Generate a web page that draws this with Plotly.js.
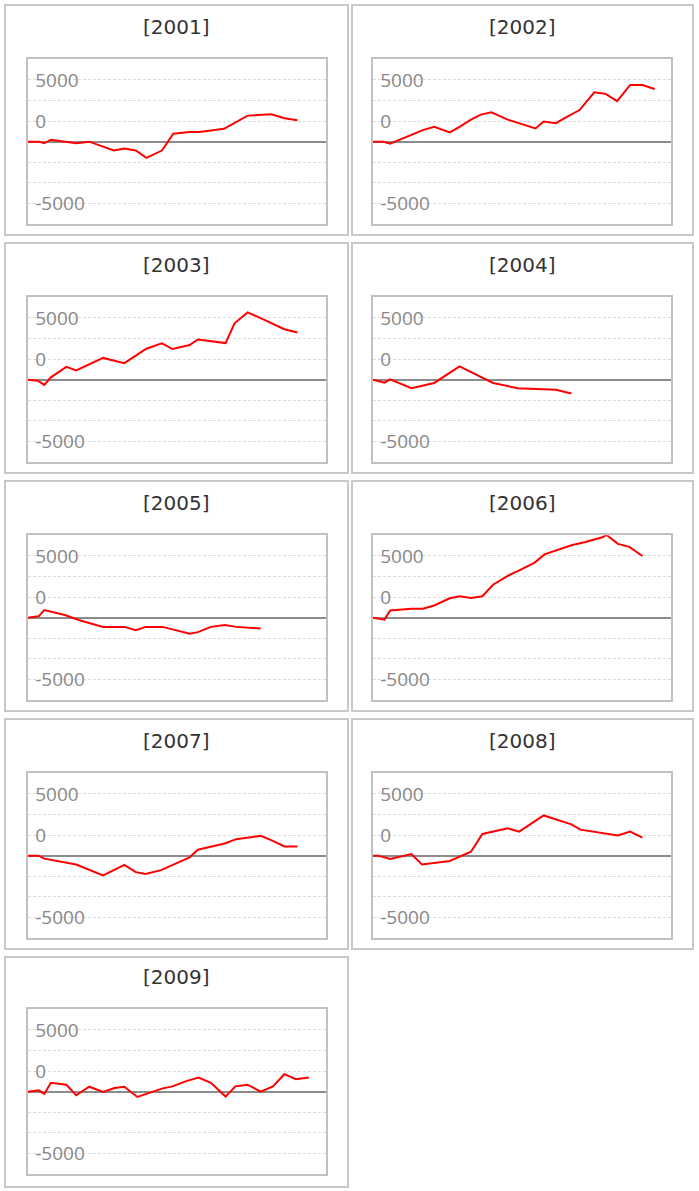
<!DOCTYPE html>
<html>
<head>
<meta charset="utf-8">
<script src="https://cdn.plot.ly/plotly-3.0.1.min.js"></script>
<style>
  html, body { margin: 0; padding: 0; background: #fff; }
  #chart { width: 699px; height: 1191px; }
</style>
</head>
<body>
<div id="chart"></div>
<script>
/* data (x = day of year) */

var years = ['2001', '2002', '2003', '2004', '2005', '2006', '2007', '2008', '2009']

var days_2001 = [0, 13, 20, 28, 59, 75, 105, 118, 132, 145, 164, 178, 198, 210, 240, 255, 269, 298, 314, 330]
var vals_2001 = [0, 0, -133, 160, -133, 0, -720, -560, -720, -1307, -720, 640, 773, 773, 1040, 1573, 2107, 2213, 1893, 1733]

var days_2002 = [0, 12, 21, 61, 75, 94, 106, 120, 132, 145, 165, 183, 199, 209, 224, 238, 253, 271, 285, 299, 315, 330, 345]
var vals_2002 = [0, 0, -160, 933, 1200, 747, 1200, 1787, 2187, 2373, 1787, 1387, 1067, 1627, 1493, 2027, 2560, 4000, 3867, 3280, 4587, 4587, 4267]

var days_2003 = [0, 12, 20, 28, 47, 59, 92, 118, 145, 164, 177, 198, 208, 242, 253, 269, 283, 300, 314, 330]
var vals_2003 = [0, -80, -427, 187, 1040, 747, 1760, 1333, 2507, 2933, 2480, 2800, 3253, 2960, 4560, 5440, 5040, 4507, 4080, 3813]

var days_2004 = [0, 14, 21, 47, 75, 106, 147, 177, 224, 243]
var vals_2004 = [0, -240, 30, -693, -267, 1067, -267, -693, -827, -1120]

var days_2005 = [0, 13, 20, 45, 63, 92, 118, 132, 144, 165, 198, 208, 224, 241, 255, 285]
var vals_2005 = [0, 107, 613, 213, -213, -747, -747, -1013, -747, -747, -1307, -1173, -747, -587, -747, -880]

var days_2006 = [0, 14, 21, 47, 61, 75, 94, 106, 120, 134, 147, 165, 181, 198, 210, 243, 259, 281, 286, 300, 314, 330]
var vals_2006 = [0, -160, 587, 720, 720, 987, 1573, 1733, 1600, 1733, 2667, 3387, 3893, 4453, 5120, 5867, 6107, 6507, 6700, 5973, 5733, 4987]

var days_2007 = [0, 13, 20, 38, 59, 92, 118, 132, 144, 163, 181, 198, 208, 224, 241, 255, 285, 300, 314, 330]
var vals_2007 = [0, 0, -240, -480, -720, -1600, -747, -1333, -1493, -1173, -613, -133, 480, 747, 987, 1333, 1600, 1200, 747, 747]

var days_2008 = [0, 6, 21, 47, 60, 94, 120, 134, 165, 179, 209, 226, 243, 254, 283, 300, 315, 330]
var vals_2008 = [0, 0, -267, 133, -720, -427, 320, 1760, 2213, 1947, 3253, 2907, 2533, 2107, 1840, 1627, 1947, 1467]

var days_2009 = [0, 13, 20, 28, 47, 59, 75, 92, 106, 118, 134, 149, 165, 177, 194, 209, 224, 242, 254, 269, 285, 300, 314, 328, 344]
var vals_2009 = [0, 107, -187, 720, 560, -293, 400, -27, 293, 400, -427, -80, 267, 427, 853, 1147, 720, -400, 427, 560, 0, 427, 1413, 1013, 1147]

var series_days = [days_2001, days_2002, days_2003, days_2004, days_2005, days_2006, days_2007, days_2008, days_2009]
var series_vals = [vals_2001, vals_2002, vals_2003, vals_2004, vals_2005, vals_2006, vals_2007, vals_2008, vals_2009]

// in the original the "0" label sits one grid step above the zero line
var grid_step = 5000 / 3
var y_tick_vals = [5000, grid_step, -5000]
var y_tick_text = ['5000', '0', '-5000']

/* page geometry, in pixels */

var W = 699, H = 1191
var col_plot = [[28, 326], [373, 671]]
var col_box = [[5, 348], [352, 693]]
var row_off = [0, 238, 476, 714, 950]
var box_top = [5, 243, 481, 719, 957]

function px_x(p) { return p / W }
function px_y(p) { return 1 - p / H }

var traces = []
var layout = {
    width: W, height: H, autosize: false,
    margin: {l: 0, r: 0, t: 0, b: 0},
    paper_bgcolor: '#fff', plot_bgcolor: '#fff',
    showlegend: false,
    shapes: [], annotations: []
}

years.forEach(function (yr, i) {
    var col = i % 2, row = Math.floor(i / 2)
    var sfx = i === 0 ? '' : String(i + 1)

    traces.push({
        x: series_days[i], y: series_vals[i],
        xaxis: 'x' + sfx, yaxis: 'y' + sfx,
        type: 'scatter', mode: 'lines',
        line: {color: '#ff0000', width: 2},
        hoverinfo: 'skip'
    })

    layout['xaxis' + sfx] = {
        domain: [px_x(col_plot[col][0]), px_x(col_plot[col][1])],
        range: [0, 365], anchor: 'y' + sfx,
        showgrid: false, zeroline: false, showticklabels: false, ticks: '',
        showline: true, mirror: true, linecolor: '#c0c0c0', linewidth: 2,
        fixedrange: true
    }

    layout['yaxis' + sfx] = {
        domain: [px_y(row_off[row] + 224), px_y(row_off[row] + 59.3)],
        range: [-4 * grid_step, 4 * grid_step], anchor: 'x' + sfx,
        tickmode: 'array', tickvals: y_tick_vals, ticktext: y_tick_text,
        ticklabelposition: 'inside', ticklabelstandoff: 8, ticks: '',
        tickfont: {family: 'Open Sans', size: 19, color: '#888888'},
        showgrid: true, gridcolor: '#dcdcdc', gridwidth: 1, griddash: '3px,2px',
        minor: {
            tickmode: 'linear', tick0: 0, dtick: grid_step, ticks: '',
            showgrid: true, gridcolor: '#dcdcdc', gridwidth: 1, griddash: '3px,2px'
        },
        zeroline: true, zerolinecolor: '#8c8c8c', zerolinewidth: 2,
        showline: true, mirror: true, linecolor: '#c0c0c0', linewidth: 2,
        fixedrange: true
    }

    // panel frame
    var box_bottom = row === 4 ? 1187 : box_top[row] + 230
    layout.shapes.push({
        type: 'rect', xref: 'paper', yref: 'paper', layer: 'below',
        x0: px_x(col_box[col][0]), x1: px_x(col_box[col][1]),
        y0: px_y(box_bottom), y1: px_y(box_top[row]),
        line: {color: '#c8c8c8', width: 2}
    })

    layout.annotations.push({
        text: '[' + yr + ']', showarrow: false,
        xref: 'paper', yref: 'paper',
        x: px_x((col_box[col][0] + col_box[col][1]) / 2), y: px_y(row_off[row] + 27),
        xanchor: 'center', yanchor: 'middle',
        font: {family: 'DejaVu Sans', size: 20, color: '#333333'}
    })
})

Plotly.newPlot('chart', traces, layout, {displayModeBar: false, staticPlot: true})
</script>
</body>
</html>
